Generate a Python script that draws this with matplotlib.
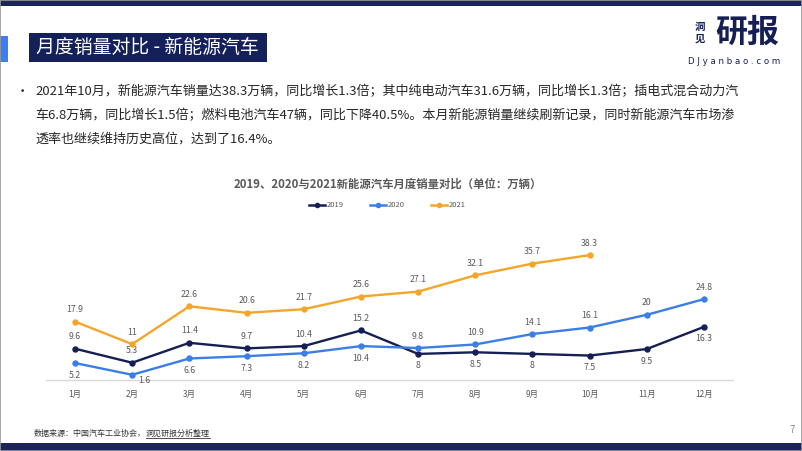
import matplotlib
matplotlib.use('Agg')
import matplotlib.pyplot as plt
from matplotlib.patches import Rectangle
from matplotlib.lines import Line2D

plt.rcParams['font.family'] = ['Noto Sans CJK SC', 'DejaVu Sans']

# data
months = ['1月', '2月', '3月', '4月', '5月', '6月', '7月', '8月', '9月', '10月', '11月', '12月']
s2019 = [9.6, 5.3, 11.4, 9.7, 10.4, 15.2, 8, 8.5, 8, 7.5, 9.5, 16.3]
s2020 = [5.2, 1.6, 6.6, 7.3, 8.2, 10.4, 9.8, 10.9, 14.1, 16.1, 20, 24.8]
s2021 = [17.9, 11, 22.6, 20.6, 21.7, 25.6, 27.1, 32.1, 35.7, 38.3]
# label side for each point: 1 above, -1 below
pos2019 = [1, 1, 1, 1, 1, 1, -1, -1, -1, -1, -1, -1]
pos2020 = [-1, -1, -1, -1, -1, -1, 1, 1, 1, 1, 1, 1]
pos2021 = [1] * 10

NAVY = '#151f55'
BLUE = '#3b7ee8'
ORANGE = '#f5a62a'
GRAY = '#595959'

W, H = 802, 451
fig = plt.figure(figsize=(W / 100, H / 100), dpi=100)

def fx(px):
    return px / W

def fy(py):
    return 1 - py / H

# slide decoration
fig.add_artist(Rectangle((0, fy(6)), 1, 6 / H, transform=fig.transFigure, color='#1a2459', lw=0))
fig.add_artist(Rectangle((0, 0), 1, 8 / H, transform=fig.transFigure, color='#1a2459', lw=0))
fig.add_artist(Rectangle((0, fy(62)), fx(8), 26 / H, transform=fig.transFigure, color='#3d7ff2', lw=0))
fig.add_artist(Rectangle((fx(29), fy(62)), fx(238), 29 / H, transform=fig.transFigure, color='#14205a', lw=0))
fig.add_artist(Rectangle((0, 0), 1, 1, transform=fig.transFigure, fill=False, ec='#9a9a9a', lw=1.2))
fig.text(fx(36), fy(47.5), '月度销量对比 - 新能源汽车', color='white', fontsize=13.6, va='center', ha='left')

# logo
fig.text(fx(700), fy(27), '洞', color=NAVY, fontsize=7.5, fontweight='bold', ha='center', va='center')
fig.text(fx(700), fy(39), '见', color=NAVY, fontsize=7.5, fontweight='bold', ha='center', va='center')
fig.text(fx(747), fy(33), '研报', color=NAVY, fontsize=23, fontweight='heavy', ha='center', va='center')
fig.text(fx(734), fy(62), 'D J y a n b a o . c o m', color=NAVY, fontsize=6.2, ha='center', va='center',
         family='DejaVu Sans')

# bullet text
lines = ['2021年10月，新能源汽车销量达38.3万辆，同比增长1.3倍；其中纯电动汽车31.6万辆，同比增长1.3倍；插电式混合动力汽',
         '车6.8万辆，同比增长1.5倍；燃料电池汽车47辆，同比下降40.5%。本月新能源销量继续刷新记录，同时新能源汽车市场渗',
         '透率也继续维持历史高位，达到了16.4%。']
fig.text(fx(22), fy(92), '•', color='#262626', fontsize=9.5, ha='center', va='center')
for i, t in enumerate(lines):
    fig.text(fx(35), fy(92 + i * 23.5), t, color='#262626', fontsize=9.4, ha='left', va='center')

# chart title
fig.text(fx(388), fy(184), '2019、2020与2021新能源汽车月度销量对比（单位：万辆）', color=GRAY,
         fontsize=8.2, fontweight='bold', ha='center', va='center')

# legend
for x0, col, name in [(309, NAVY, '2019'), (370, BLUE, '2020'), (431, ORANGE, '2021')]:
    fig.add_artist(Line2D([fx(x0), fx(x0 + 8), fx(x0 + 16)], [fy(205)] * 3, transform=fig.transFigure,
                          color=col, lw=1.8, marker='o', ms=3, markevery=[1]))
    fig.text(fx(x0 + 18), fy(205), name, color=GRAY, fontsize=5.5, ha='left', va='center')

# chart
ax = fig.add_axes([fx(46.4), 71 / H, fx(686.2), 150 / H])
x = list(range(12))
for data, col, pos in [(s2019, NAVY, pos2019), (s2020, BLUE, pos2020), (s2021, ORANGE, pos2021)]:
    xs = x[:len(data)]
    ax.plot(xs, data, color=col, lw=1.7, marker='o', ms=3.6, zorder=3)
    for xi, v, p in zip(xs, data, pos):
        dx = 0
        dy = 12 * p
        if col == BLUE and xi == 1:
            dx, dy = 12, -6
        ax.annotate(f'{v:g}', (xi, v), xytext=(dx, dy), textcoords='offset pixels',
                    ha='center', va='center', fontsize=6.3, color=GRAY)

ax.set_xlim(-0.5, 11.5)
ax.set_ylim(0, 46)
ax.set_xticks(x)
ax.set_xticklabels(months, fontsize=6, color=GRAY)
ax.tick_params(axis='x', length=0, pad=7)
ax.set_yticks([])
for s in ['top', 'right', 'left']:
    ax.spines[s].set_visible(False)
ax.spines['bottom'].set_color('#d9d9d9')
ax.spines['bottom'].set_linewidth(1)
ax.patch.set_alpha(0)

# footer
t1 = fig.text(fx(34), fy(433), '数据来源：中国汽车工业协会，', color='#333333', fontsize=5.8, ha='left', va='center')
fig.canvas.draw()
bb = t1.get_window_extent(fig.canvas.get_renderer())
t2 = fig.text(bb.x1 / W, fy(433), '洞见研报分析整理', color='#333333', fontsize=5.8, ha='left', va='center')
fig.canvas.draw()
bb2 = t2.get_window_extent(fig.canvas.get_renderer())
fig.add_artist(Line2D([bb2.x0 / W, bb2.x1 / W], [bb2.y0 / H - 0.002] * 2, transform=fig.transFigure,
                      color='#333333', lw=0.6))
fig.text(fx(792), fy(430), '7', color='#8c8c8c', fontsize=7, ha='center', va='center')

fig.savefig('out.png', dpi=100)
